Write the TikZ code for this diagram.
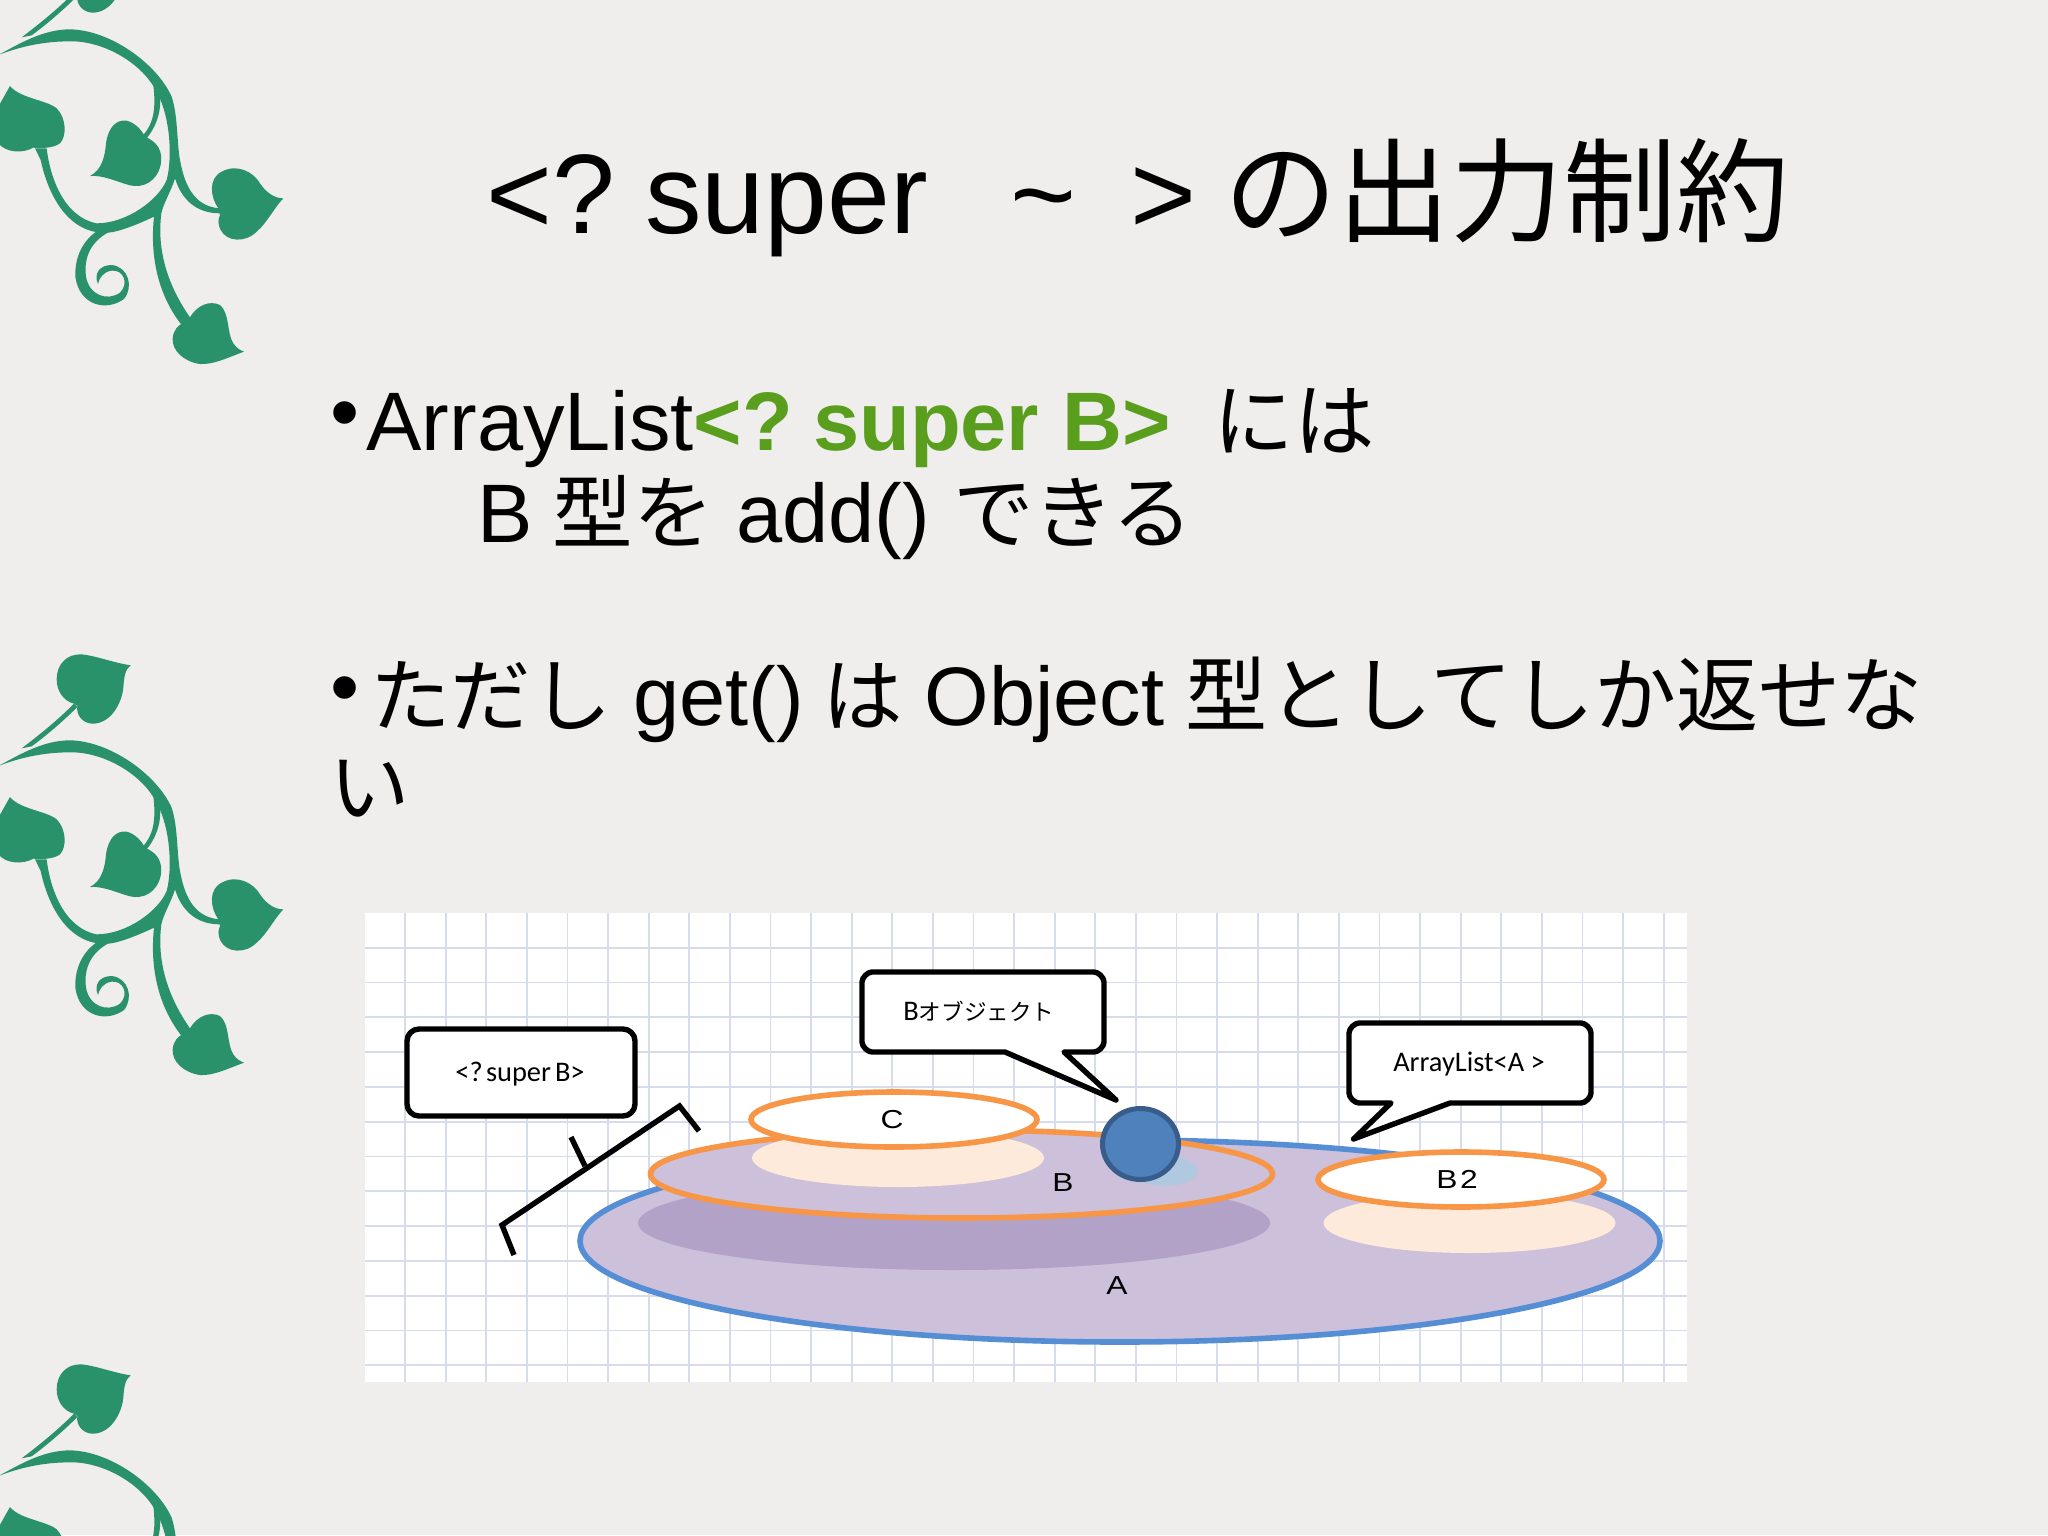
\documentclass[tikz,border=0pt]{standalone}
\usepackage{fontspec}
\setmainfont{Liberation Sans}
\newfontfamily\jpfont{Noto Sans CJK JP}[Scale=0.97]
\newfontfamily\jpwide{Noto Sans CJK JP}[Scale=0.99]
\newfontfamily\jptitle{Noto Sans CJK JP}
\newfontfamily\carl{Carlito}
\newfontfamily\widefont{Liberation Sans}[FakeStretch=1.22]
\definecolor{bgc}{HTML}{F0EDED}
\definecolor{vine}{HTML}{2A926A}
\definecolor{gridc}{HTML}{D6DCEC}
\definecolor{purp}{HTML}{CCC0DA}
\definecolor{purpd}{HTML}{B3A2C7}
\definecolor{orng}{HTML}{F79646}
\definecolor{peach}{HTML}{FDEADA}
\definecolor{blueA}{HTML}{558ED5}
\definecolor{ballf}{HTML}{4F81BD}
\definecolor{ballb}{HTML}{385D8A}
\definecolor{ballsh}{HTML}{B0C8E0}
\definecolor{greent}{HTML}{5A9E1E}
\tikzset{
  titletext/.style={anchor=base west,inner sep=0pt,font=\fontsize{56.5pt}{60pt}\selectfont},
  bodytext/.style={anchor=base west,inner sep=0pt,font=\fontsize{41.5pt}{46pt}\selectfont},
  ring/.style={draw=orng,line width=2.8pt},
  callout/.style={draw=black,fill=white,line width=2.7pt,line join=round},
  boxlabel/.style={inner sep=0pt,font=\carl\fontsize{14.2pt}{16pt}\selectfont},
  shapelabel/.style={inner sep=0pt,font=\widefont\fontsize{13pt}{15pt}\selectfont},
  gridline/.style={draw=gridc,line width=0.9pt},
  bracket/.style={draw=black,line width=2.7pt,line join=miter},
}
\newcommand{\vinedraw}{%
  \fill[vine] (-5,165) .. controls (60,130) and (130,88) .. (210,88)
     .. controls (330,90) and (470,190) .. (515,290)
     .. controls (535,350) and (530,440) .. (542,490)
     .. controls (552,540) and (575,620) .. (660,625) -- (660,640)
     .. controls (590,640) and (545,600) .. (525,535)
     .. controls (515,570) and (490,610) .. (484,640)
     .. controls (474,720) and (484,830) .. (572,955) -- (545,975)
     .. controls (470,880) and (450,760) .. (462,650)
     .. controls (420,670) and (360,695) .. (325,698)
     .. controls (220,705) and (150,610) .. (122,480) -- (105,445) -- (140,445)
     .. controls (150,530) and (190,650) .. (290,670)
     .. controls (380,670) and (475,600) .. (500,540)
     .. controls (518,470) and (510,350) .. (472,280)
     .. controls (430,190) and (310,122) .. (210,124)
     .. controls (130,124) and (60,140) .. (-5,165) -- cycle;
  \fill[vine] (480,285) .. controls (485,340) and (465,385) .. (440,415) -- (430,405)
     .. controls (455,375) and (470,340) .. (460,255) -- cycle;
  \fill[vine] (335,692) .. controls (275,720) and (250,770) .. (258,830)
     .. controls (268,885) and (320,905) .. (360,878)
     .. controls (388,850) and (370,808) .. (335,812)
     .. controls (310,815) and (297,835) .. (294,852)
     .. controls (280,820) and (300,795) .. (335,795)
     .. controls (385,800) and (402,860) .. (372,897)
     .. controls (320,935) and (238,918) .. (226,830)
     .. controls (223,760) and (260,705) .. (310,683) -- cycle;
  % twig to the top leaf
  \fill[vine] (65,112) .. controls (120,70) and (170,30) .. (222,-22) -- (232,-12)
     .. controls (180,40) and (130,80) .. (95,106) -- cycle;
  % leaves
  \fill[vine] (-5,320) -- (30,258) .. controls (60,295) and (140,300) .. (170,325)
     .. controls (200,355) and (200,410) .. (180,430)
     .. controls (160,445) and (125,445) .. (100,443)
     .. controls (70,460) and (20,460) .. (-5,430) -- cycle;
  \fill[vine] (435,410) .. controls (470,425) and (490,450) .. (482,495)
     .. controls (470,545) and (430,565) .. (390,556)
     .. controls (350,545) and (310,525) .. (270,528)
     .. controls (305,510) and (315,470) .. (318,430)
     .. controls (325,380) and (350,358) .. (380,362)
     .. controls (405,368) and (425,390) .. (435,410) -- cycle;
  \fill[vine] (655,625) .. controls (630,590) and (625,535) .. (665,515)
     .. controls (710,490) and (760,515) .. (780,550)
     .. controls (800,580) and (825,595) .. (850,595)
     .. controls (825,620) and (800,670) .. (770,695)
     .. controls (735,730) and (680,725) .. (662,690)
     .. controls (652,670) and (655,655) .. (660,645) -- cycle;
  \fill[vine] (568,955) .. controls (590,915) and (630,900) .. (660,915)
     .. controls (690,940) and (680,1000) .. (700,1030)
     .. controls (710,1045) and (720,1050) .. (732,1055)
     .. controls (690,1070) and (640,1095) .. (600,1092)
     .. controls (550,1085) and (515,1050) .. (518,1015)
     .. controls (520,990) and (535,975) .. (548,970) -- cycle;
  \fill[vine] (222,-22) .. controls (190,-30) and (170,-60) .. (170,-95)
     .. controls (170,-140) and (200,-172) .. (245,-170)
     .. controls (290,-165) and (340,-145) .. (392,-137)
     .. controls (375,-125) and (372,-100) .. (370,-70)
     .. controls (365,-20) and (330,40) .. (275,38)
     .. controls (245,35) and (228,10) .. (232,-15) -- cycle;
}
\begin{document}
\begin{tikzpicture}[x=0.5pt,y=-0.5pt]
\useasboundingbox (0,0) rectangle (2048,1535);
\fill[bgc] (0,0) rectangle (2048,1535);
\begin{scope}
\clip (0,0) rectangle (2048,1535);
\begin{scope}[x=0.16667pt,y=-0.16667pt]\vinedraw\end{scope}
\begin{scope}[yshift=-355.5pt,x=0.16667pt,y=-0.16667pt]\vinedraw\end{scope}
\begin{scope}[yshift=-710.5pt,x=0.16667pt,y=-0.16667pt]\vinedraw\end{scope}
\end{scope}
% title
\node[titletext] (title) at (486,234) {<?\hspace{0.266em}super\hspace{0.73em}\textasciitilde\hspace{0.475em}>\hspace{0.25em}{\jptitle の出力制約}};
% body
\node[bodytext] (b1) at (330,440) {•};
\node[bodytext] (l1) at (366,450) {ArrayList{\color{greent}\bfseries <?\hspace{0.244em}super B>}\hspace{0.52em}{\jpfont には}};
\node[bodytext] (l2) at (477,542) {B\hspace{0.24em}{\jpfont 型を}\hspace{0.27em}add()\hspace{0.28em}{\jpfont できる}};
\node[bodytext] (b2) at (330,715) {•};
\node[bodytext] (l3) at (370,725) {{\jpfont ただし}\hspace{0.26em}get()\hspace{0.22em}{\jpfont は}\hspace{0.26em}Object\hspace{0.26em}{\jpwide 型としてしか返せな}};
\node[bodytext] (l4) at (329,816) {{\jpfont い}};
% panel
\fill[white] (365,913) rectangle (1687,1382);
\foreach \k in {0,...,31} {\draw[gridline] ({405+40.6*\k},913) -- ({405+40.6*\k},1382);}
\foreach \k in {0,...,12} {\draw[gridline] (365,{947.7+34.8*\k}) -- (1687,{947.7+34.8*\k});}
% ellipses
\draw[fill=purp,draw=blueA,line width=2.8pt] (1120,1241) ellipse [x radius=540,y radius=101];
\fill[purpd] (954,1223) ellipse [x radius=316,y radius=47];
\fill[peach] (1469.5,1223) ellipse [x radius=146,y radius=30];
\draw[ring,fill=purp] (961.5,1174) ellipse [x radius=311,y radius=44];
\fill[peach] (898,1158) ellipse [x radius=146,y radius=29];
\draw[ring,fill=white] (894,1119.5) ellipse [x radius=143,y radius=27.5];
\draw[ring,fill=white] (1461,1179.5) ellipse [x radius=143,y radius=27.5];
\fill[ballsh] (1165,1171) ellipse [x radius=32,y radius=15];
\draw[fill=ballf,draw=ballb,line width=2.5pt] (1140.5,1144) ellipse [x radius=38,y radius=35.5];
% callouts
\draw[callout,rounded corners=6pt] (407,1029) rectangle (635,1116);
\draw[callout] (872,972) -- (1094,972) to[out=0,in=90,looseness=0.8] (1104,982) -- (1104,1042)
   to[out=-90,in=0,looseness=0.8] (1094,1052) -- (1064,1052) -- (1116,1100) -- (1005,1052) -- (872,1052)
   to[out=180,in=-90,looseness=0.8] (862,1042) -- (862,982) to[out=90,in=180,looseness=0.8] cycle;
\draw[callout] (1359,1023) -- (1581,1023) to[out=0,in=90,looseness=0.8] (1591,1033) -- (1591,1093)
   to[out=-90,in=0,looseness=0.8] (1581,1103) -- (1450,1103) -- (1353.5,1139) -- (1391,1103) -- (1359,1103)
   to[out=180,in=-90,looseness=0.8] (1349,1093) -- (1349,1033) to[out=90,in=180,looseness=0.8] cycle;
% bracket
\coordinate (brA) at (514,1255);
\coordinate (brB) at (502,1225);
\coordinate (brC) at (679.5,1106);
\coordinate (brD) at (699,1131);
\coordinate (brE) at (571,1137);
\coordinate (brF) at (585,1166);
\draw[bracket] (brA) -- (brB) -- (brC) -- (brD);
\draw[bracket] (brE) -- (brF);
% labels
\node[boxlabel] (sup) at (520,1074) {<?\hspace{0.12em}super\hspace{0.14em}B>};
\node[boxlabel] (bobj) at (979,1011) {B{\jptitle\fontsize{11.3pt}{13pt}\selectfont オブジェクト}};
\node[boxlabel] (alist) at (1469,1064) {ArrayList<A >};
\node[shapelabel] (lc) at (892,1120) {C};
\node[shapelabel] (lb) at (1063,1183) {B};
\node[shapelabel] (la) at (1117,1286) {A};
\node[shapelabel] (lb2) at (1457,1179) {B\hspace{0.1em}2};
\end{tikzpicture}
\end{document}
